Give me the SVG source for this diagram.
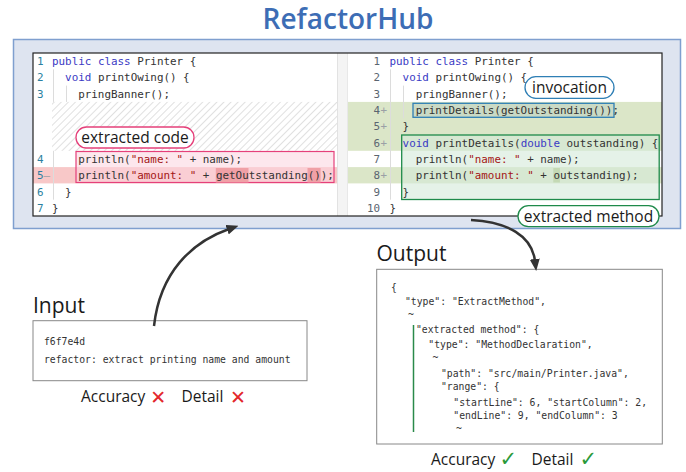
<svg xmlns="http://www.w3.org/2000/svg" width="686" height="472" viewBox="0 0 686 472">
<style>
.code{font-family:"DejaVu Sans Mono","Liberation Mono",monospace;font-size:10.9px;fill:#333;}
.kw{fill:#3a3ac4;}
.str{fill:#a31515;}
.ln{font-family:"DejaVu Sans Mono","Liberation Mono",monospace;font-size:10.9px;fill:#2b7fa0;}
.lnr{font-family:"DejaVu Sans Mono","Liberation Mono",monospace;font-size:10.9px;fill:#5a6570;}
.mk{fill:#9aa0a6;}
.json{font-family:"DejaVu Sans Mono","Liberation Mono",monospace;font-size:9.75px;fill:#333;}
.sans{font-family:"Open Sans","Noto Sans","DejaVu Sans",sans-serif;fill:#1a1a1a;}
.sym{font-family:"DejaVu Sans",sans-serif;}
.guide{stroke:#dcdcdc;stroke-width:1;}
.pill{fill:#fff;stroke-width:1.3;}
.conn{fill:none;stroke:#333;stroke-width:2.5;}
</style>
<defs>
<pattern id="hatch" patternUnits="userSpaceOnUse" width="5" height="5" patternTransform="rotate(45)">
<line x1="0" y1="0" x2="0" y2="5" stroke="#cfcfcf" stroke-width="1.3"/>
</pattern>
<marker id="arr" viewBox="0 0 12 10" refX="2" refY="5" markerWidth="12" markerHeight="10" markerUnits="userSpaceOnUse" orient="auto">
<path d="M0,0 L12,5 L0,10 z" fill="#333"/>
</marker>
</defs>

<text x="348" y="28.5" text-anchor="middle" font-family="'Open Sans','Noto Sans',sans-serif" font-weight="600" font-size="28" fill="#3d6db5">RefactorHub</text>

<g id="frame">
<rect x="13.5" y="39.5" width="667" height="189" fill="#dee4f0" stroke="#7f9fcf" stroke-width="1.5"/>
<rect x="33" y="53" width="629" height="163" fill="#fff"/>
</g>

<g id="left-panel">
<rect x="52" y="101.9" width="285" height="48.9" fill="url(#hatch)"/>
<rect x="33" y="167.1" width="304" height="16.3" fill="#f8c8c8"/>
<rect x="76" y="151.5" width="258" height="31" fill="#fbd3de" fill-opacity="0.55" stroke="#e5407a" stroke-width="1.2"/>
<rect x="215.8" y="168" width="32.7" height="14.5" fill="#f0a0a6"/>
<rect x="307.5" y="168" width="13.1" height="14.5" fill="#f0a0a6"/>
<line class="guide" x1="53.5" y1="69.3" x2="53.5" y2="101.9"/>
<line class="guide" x1="53.5" y1="150.8" x2="53.5" y2="199.7"/>
<line class="guide" x1="66.5" y1="85.6" x2="66.5" y2="101.9"/>
<text class="ln" x="37" y="65.1">1</text>
<text class="ln" x="37" y="81.4">2</text>
<text class="ln" x="37" y="97.7">3</text>
<text class="ln" x="37" y="162.9">4</text>
<text class="ln" x="37" y="179.2">5<tspan class="mk">—</tspan></text>
<text class="ln" x="37" y="195.5">6</text>
<text class="ln" x="37" y="211.8">7</text>
<text class="code" x="52" y="65.1"><tspan class="kw">public class</tspan> Printer {</text>
<text class="code" x="65.1" y="81.4"><tspan class="kw">void</tspan> printOwing() {</text>
<text class="code" x="78.2" y="97.7">pringBanner();</text>
<text class="code" x="78.2" y="162.9">println(<tspan class="str">"name: "</tspan> + name);</text>
<text class="code" x="78.2" y="179.2">println(<tspan class="str">"amount: "</tspan> + getOutstanding());</text>
<text class="code" x="65.1" y="195.5">}</text>
<text class="code" x="52" y="211.8">}</text>
</g>

<g id="label-extracted-code">
<rect class="pill" x="76" y="127" width="118" height="21" rx="10.5" stroke="#e5407a"/>
<text class="sans" x="135" y="143" text-anchor="middle" font-size="15.5">extracted code</text>
</g>

<g id="separator">
<rect x="337" y="53" width="11" height="163" fill="#f4f4f4"/>
<line x1="337.5" y1="53" x2="337.5" y2="216" stroke="#e2e2e2"/>
<line x1="347.5" y1="53" x2="347.5" y2="216" stroke="#e8e8e8"/>
</g>

<g id="right-panel">
<rect x="348" y="101.9" width="314" height="48.9" fill="#dbe6c8"/>
<rect x="348" y="167.1" width="314" height="16.3" fill="#dbe6c8"/>
<rect x="401.7" y="135" width="257.5" height="64.5" fill="#d3ead8" fill-opacity="0.6" stroke="#1e8a4a" stroke-width="1.3"/>
<rect x="553.3" y="168" width="6.6" height="14.5" fill="#c4d9b4"/>
<rect x="413" y="103.3" width="201" height="14" fill="#6a9ab8" fill-opacity="0.15" stroke="#2f7fb5" stroke-width="1.3"/>
<line class="guide" x1="390.5" y1="69.3" x2="390.5" y2="199.7"/>
<line class="guide" x1="403.5" y1="85.6" x2="403.5" y2="118.2"/>
<text class="lnr" x="380" y="65.1" text-anchor="end">1</text>
<text class="lnr" x="380" y="81.4" text-anchor="end">2</text>
<text class="lnr" x="380" y="97.7" text-anchor="end">3</text>
<text class="lnr" x="380" y="114" text-anchor="end">4</text>
<text class="lnr" x="380" y="130.3" text-anchor="end">5</text>
<text class="lnr" x="380" y="146.6" text-anchor="end">6</text>
<text class="lnr" x="380" y="162.9" text-anchor="end">7</text>
<text class="lnr" x="380" y="179.2" text-anchor="end">8</text>
<text class="lnr" x="380" y="195.5" text-anchor="end">9</text>
<text class="lnr" x="380" y="211.8" text-anchor="end">10</text>
<text class="lnr mk" x="380.5" y="114">+</text>
<text class="lnr mk" x="380.5" y="130.3">+</text>
<text class="lnr mk" x="380.5" y="146.6">+</text>
<text class="lnr mk" x="380.5" y="179.2">+</text>
<text class="code" x="389.5" y="65.1"><tspan class="kw">public class</tspan> Printer {</text>
<text class="code" x="402.6" y="81.4"><tspan class="kw">void</tspan> printOwing() {</text>
<text class="code" x="415.7" y="97.7">pringBanner();</text>
<text class="code" x="415.7" y="114">printDetails(getOutstanding());</text>
<text class="code" x="402.6" y="130.3">}</text>
<text class="code" x="402.6" y="146.6"><tspan class="kw">void</tspan> printDetails(<tspan class="kw">double</tspan> outstanding) {</text>
<text class="code" x="415.7" y="162.9">println(<tspan class="str">"name: "</tspan> + name);</text>
<text class="code" x="415.7" y="179.2">println(<tspan class="str">"amount: "</tspan> + outstanding);</text>
<text class="code" x="402.6" y="195.5">}</text>
<text class="code" x="389.5" y="211.8">}</text>
</g>

<rect x="33" y="53" width="629" height="163" fill="none" stroke="#222" stroke-width="1.2"/>

<g id="label-invocation">
<rect class="pill" x="525" y="76.7" width="89" height="21.6" rx="10.8" stroke="#2f7fb5"/>
<text class="sans" x="569.5" y="93.3" text-anchor="middle" font-size="15.5">invocation</text>
</g>

<g id="label-extracted-method">
<rect class="pill" x="518" y="205.7" width="141" height="21" rx="10.5" stroke="#1e8a4a"/>
<text class="sans" x="588.5" y="222" text-anchor="middle" font-size="15.5">extracted method</text>
</g>

<g id="input">
<text class="sans" x="33" y="313" font-size="21">Input</text>
<rect x="33" y="320.7" width="274" height="60" fill="#fff" stroke="#888" stroke-width="1"/>
<text class="json" x="44" y="345" font-size="11">f6f7e4d</text>
<text class="json" x="44" y="363" font-size="9.9">refactor: extract printing name and amount</text>
<text class="sans" x="81" y="402" font-size="15.5">Accuracy</text>
<text class="sym" x="158.3" y="403.5" text-anchor="middle" font-size="19" fill="#e3262b">✕</text>
<text class="sans" x="181.5" y="402" font-size="15.5">Detail</text>
<text class="sym" x="238" y="403.5" text-anchor="middle" font-size="19" fill="#e3262b">✕</text>
</g>

<g id="output">
<text class="sans" x="376.5" y="261" font-size="21">Output</text>
<rect x="376.7" y="269.3" width="285.6" height="174.7" fill="#fff" stroke="#888" stroke-width="1"/>
<line x1="413.5" y1="325" x2="413.5" y2="432" stroke="#2a8a4a" stroke-width="1.5"/>
<text class="json" x="391" y="290.6">{</text>
<text class="json" x="405" y="305">"type": "ExtractMethod",</text>
<text class="json" x="408" y="318.4" fill="#666">~</text>
<text class="json" x="416" y="332.6">"extracted method": {</text>
<text class="json" x="428.3" y="347.6">"type": "MethodDeclaration",</text>
<text class="json" x="432.5" y="361" fill="#666">~</text>
<text class="json" x="441" y="376.6">"path": "src/main/Printer.java",</text>
<text class="json" x="441" y="390">"range": {</text>
<text class="json" x="453.3" y="405.6">"startLine": 6, "startColumn": 2,</text>
<text class="json" x="453.3" y="419">"endLine": 9, "endColumn": 3</text>
<text class="json" x="456" y="432.4" fill="#666">~</text>
<text class="sans" x="431" y="465" font-size="15.5">Accuracy</text>
<text class="sym" x="508.3" y="466" text-anchor="middle" font-size="21" fill="#2a9a3a">✓</text>
<text class="sans" x="531.5" y="465" font-size="15.5">Detail</text>
<text class="sym" x="588.3" y="466" text-anchor="middle" font-size="21" fill="#2a9a3a">✓</text>
</g>

<g id="connectors">
<path class="conn" d="M154,326 C160,272 192,242 229,229" marker-end="url(#arr)"/>
<path class="conn" d="M471,220 C508,222 532,236 535,261" marker-end="url(#arr)"/>
</g>
</svg>
